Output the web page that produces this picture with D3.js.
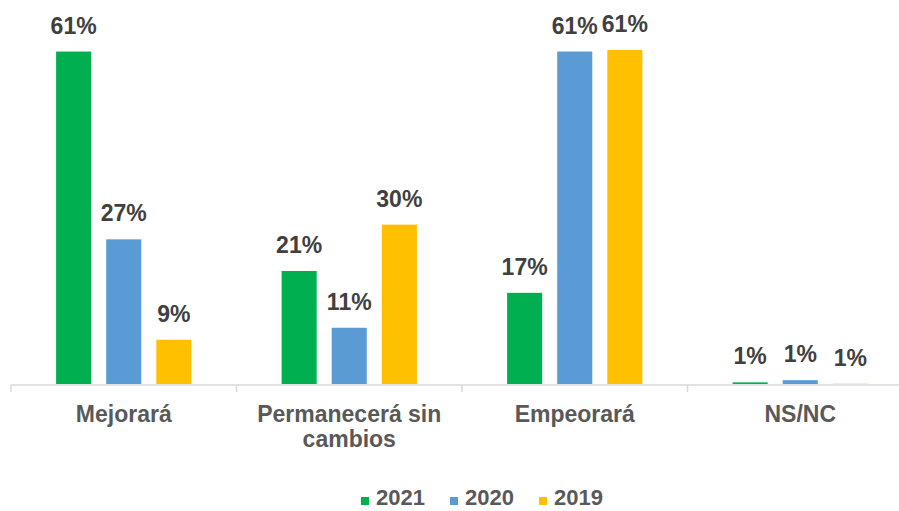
<!DOCTYPE html>
<html>
<head>
<meta charset="utf-8">
<script src="https://cdn.jsdelivr.net/npm/d3@7/dist/d3.min.js"></script>
<style>
  html, body { margin: 0; padding: 0; background: #ffffff; }
  svg { display: block; font-family: Arial, "Liberation Sans", sans-serif; }
</style>
</head>
<body>
<svg id="chart" width="899" height="511"></svg>
<script>
// ---- data ----
const categories = [["Mejorará"], ["Permanecerá sin", "cambios"], ["Empeorará"], ["NS/NC"]];
const seriesNames = ["2021", "2020", "2019"];
const values2021 = [60.9, 20.7, 16.7, 0.3];
const values2020 = [26.5, 10.3, 60.9, 0.7];
const values2019 = [8.1, 29.2, 61.2, 0.05];
const labels2021 = ["61%", "21%", "17%", "1%"];
const labels2020 = ["27%", "11%", "61%", "1%"];
const labels2019 = ["9%", "30%", "61%", "1%"];
const colors = ["#00B050", "#5B9BD5", "#FFC000"];

const series = [
  { name: seriesNames[0], values: values2021, labels: labels2021, color: colors[0] },
  { name: seriesNames[1], values: values2020, labels: labels2020, color: colors[1] },
  { name: seriesNames[2], values: values2019, labels: labels2019, color: colors[2] }
];

const svg = d3.select("#chart");
const baseY = 384;

const x0 = d3.scaleBand().domain(d3.range(categories.length)).range([11, 913]).paddingInner(0).paddingOuter(0);
const bw = x0.bandwidth();
const x1 = d3.scaleBand().domain(d3.range(series.length)).range([bw * 0.2, bw * 0.8]).paddingInner(0.3).paddingOuter(0);
const y = d3.scaleLinear().domain([0, 61]).range([baseY, 51]);

// bars
const groups = svg.append("g").selectAll("g")
  .data(series).join("g").attr("fill", d => d.color);

groups.each(function(s, si) {
  const g = d3.select(this);
  g.selectAll("rect").data(s.values).join("rect")
    .attr("x", (v, i) => x0(i) + x1(si))
    .attr("width", x1.bandwidth())
    .attr("y", v => y(v))
    .attr("height", v => baseY - y(v));
  g.selectAll("text").data(s.values).join("text")
    .attr("x", (v, i) => x0(i) + x1(si) + x1.bandwidth() / 2)
    .attr("y", v => y(v) - 18)
    .attr("text-anchor", "middle")
    .attr("fill", "#404040")
    .attr("font-size", 23)
    .attr("font-weight", "bold")
    .text((v, i) => s.labels[i]);
});

// x axis
const axis = svg.append("g").attr("transform", `translate(0,${baseY + 1})`);
axis.append("line").attr("x1", x0.range()[0]).attr("x2", x0.range()[1])
  .attr("stroke", "#d9d9d9").attr("stroke-width", 1.5);
axis.selectAll("line.tick").data(d3.range(categories.length + 1)).join("line")
  .attr("class", "tick")
  .attr("x1", i => x0.range()[0] + i * x0.step())
  .attr("x2", i => x0.range()[0] + i * x0.step())
  .attr("y1", 0).attr("y2", 7)
  .attr("stroke", "#d9d9d9").attr("stroke-width", 1.5);

const catText = axis.selectAll("text.cat").data(categories).join("text")
  .attr("class", "cat")
  .attr("text-anchor", "middle")
  .attr("fill", "#595959")
  .attr("font-size", 23)
  .attr("font-weight", "bold")
  .attr("transform", (d, i) => `translate(${x0(i) + bw / 2},${422 - baseY - 1})`);
catText.each(function(lines) {
  d3.select(this).selectAll("tspan").data(lines).join("tspan")
    .attr("x", 0).attr("dy", (l, k) => k === 0 ? 0 : 25).text(l => l);
});

// legend
const legendItems = [
  { name: seriesNames[0], color: colors[0], x: 361 },
  { name: seriesNames[1], color: colors[1], x: 450 },
  { name: seriesNames[2], color: colors[2], x: 539 }
];
const legend = svg.append("g");
legend.selectAll("rect").data(legendItems).join("rect")
  .attr("x", d => d.x).attr("y", 497).attr("width", 8).attr("height", 8)
  .attr("fill", d => d.color);
legend.selectAll("text").data(legendItems).join("text")
  .attr("x", d => d.x + 15).attr("y", 505)
  .attr("fill", "#595959").attr("font-size", 22).attr("font-weight", "bold")
  .text(d => d.name);
</script>
</body>
</html>
